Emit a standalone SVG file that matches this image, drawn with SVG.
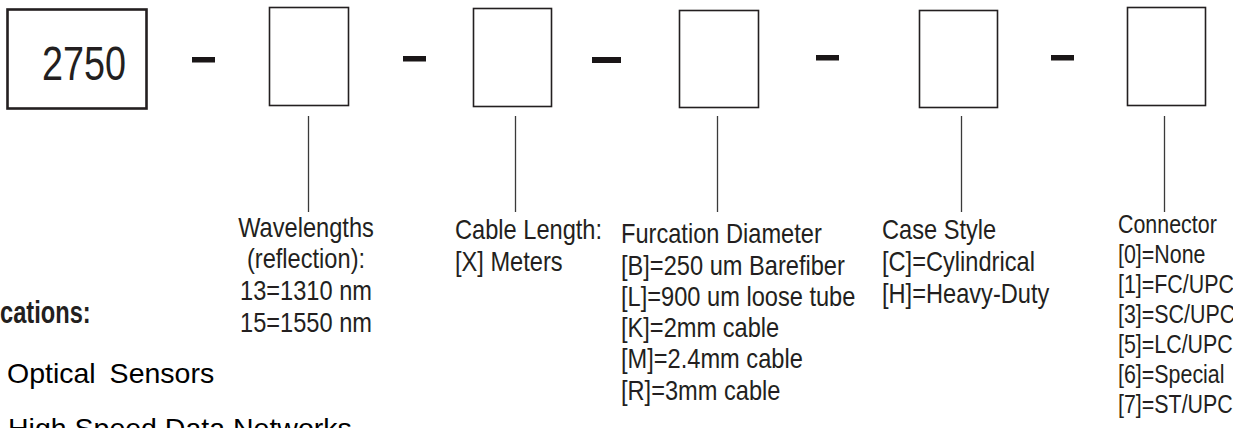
<svg xmlns="http://www.w3.org/2000/svg" width="1233" height="428" viewBox="0 0 1233 428">
<style>
.bx{fill:#fff;stroke:#231f20;stroke-width:1.6}
.dash{fill:#1a1617}
.ln{stroke:#3a3a3a;stroke-width:1.3}
.t{font-family:"Liberation Sans",Arial,sans-serif;font-size:27px;fill:#231f20}
.tc{font-family:"Liberation Sans",Arial,sans-serif;font-size:25.5px;fill:#231f20}
.tr{font-family:"Liberation Sans",Arial,sans-serif;font-size:28.5px;fill:#000}
.tb{font-family:"Liberation Sans",Arial,sans-serif;font-size:32px;font-weight:bold;fill:#231f20}
</style>
<rect width="1233" height="428" fill="#fff"/>
<g id="node-2750">
<rect x="7.5" y="9.5" width="139" height="99" fill="#fff" stroke="#231f20" stroke-width="2.6"/>
<text x="42" y="80" textLength="84" lengthAdjust="spacingAndGlyphs" style="font-family:'Liberation Sans',Arial,sans-serif;font-size:49px;fill:#231f20">2750</text>
</g>
<g id="dashes">
<rect class="dash" x="192" y="57" width="23" height="5.5"/>
<rect class="dash" x="403" y="56" width="23" height="5.5"/>
<rect class="dash" x="592" y="57" width="29" height="6"/>
<rect class="dash" x="816" y="55" width="23" height="5.5"/>
<rect class="dash" x="1051" y="55" width="23" height="5.5"/>
</g>
<g id="node-wavelength"><rect class="bx" x="269.5" y="7.5" width="79" height="98"/></g>
<g id="node-length"><rect class="bx" x="473.5" y="8.5" width="78" height="98"/></g>
<g id="node-furcation"><rect class="bx" x="679.5" y="10.5" width="79" height="97"/></g>
<g id="node-case"><rect class="bx" x="919.5" y="10.5" width="78" height="97"/></g>
<g id="node-connector"><rect class="bx" x="1127.5" y="7.5" width="78" height="98"/></g>
<g id="connectors">
<line class="ln" x1="308.5" y1="116" x2="308.5" y2="212"/>
<line class="ln" x1="515.5" y1="116" x2="515.5" y2="212"/>
<line class="ln" x1="717.5" y1="116" x2="717.5" y2="212"/>
<line class="ln" x1="961.5" y1="116" x2="961.5" y2="212"/>
<line class="ln" x1="1164.5" y1="116" x2="1164.5" y2="212"/>
</g>
<g id="label-wavelength" transform="translate(306,0) scale(0.875,1)" text-anchor="middle">
<text class="t" x="0" y="237">Wavelengths</text>
<text class="t" x="0" y="268">(reflection):</text>
<text class="t" x="0" y="300">13=1310 nm</text>
<text class="t" x="0" y="332">15=1550 nm</text>
</g>
<g id="label-length" transform="translate(455,0) scale(0.875,1)">
<text class="t" x="0" y="239">Cable Length:</text>
<text class="t" x="0" y="271">[X] Meters</text>
</g>
<g id="label-furcation" transform="translate(621,0) scale(0.875,1)">
<text class="t" x="0" y="243">Furcation Diameter</text>
<text class="t" x="0" y="275">[B]=250 um Barefiber</text>
<text class="t" x="0" y="306">[L]=900 um loose tube</text>
<text class="t" x="0" y="337">[K]=2mm cable</text>
<text class="t" x="0" y="368">[M]=2.4mm cable</text>
<text class="t" x="0" y="400">[R]=3mm cable</text>
</g>
<g id="label-case" transform="translate(882,0) scale(0.875,1)">
<text class="t" x="0" y="239">Case Style</text>
<text class="t" x="0" y="271">[C]=Cylindrical</text>
<text class="t" x="0" y="303">[H]=Heavy-Duty</text>
</g>
<g id="label-connector" transform="translate(1118,0) scale(0.84,1)">
<text class="tc" x="0" y="233">Connector</text>
<text class="tc" x="0" y="263">[0]=None</text>
<text class="tc" x="0" y="293">[1]=FC/UPC</text>
<text class="tc" x="0" y="323">[3]=SC/UPC</text>
<text class="tc" x="0" y="353">[5]=LC/UPC</text>
<text class="tc" x="0" y="383">[6]=Special</text>
<text class="tc" x="0" y="413">[7]=ST/UPC</text>
</g>
<g id="applications">
<text class="tb" transform="translate(0,323) scale(0.74,1)" x="0" y="0">cations:</text>
<text class="tr" x="7" y="383" word-spacing="6">Optical Sensors</text>
<text class="tr" x="8" y="438">High Speed Data Networks</text>
</g>
</svg>
